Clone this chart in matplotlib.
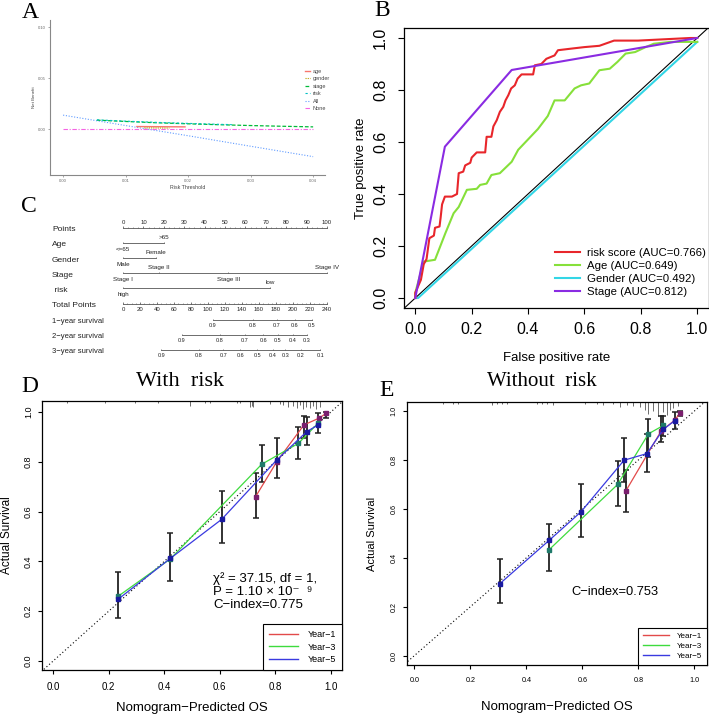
import numpy as np
import matplotlib
matplotlib.use('Agg')
import matplotlib.pyplot as plt
from matplotlib.lines import Line2D

plt.rcParams['font.family'] = ['Liberation Sans', 'DejaVu Sans']
SERIF = 'Liberation Serif'
W, H = 709, 718

# ---------------- data ----------------
# A: decision curve analysis (threshold, net benefit)
dca_all_t = [0.0, 0.01, 0.02, 0.03, 0.04]
dca_all_nb = [0.0137, 0.0035, -0.0065, -0.0168, -0.027]
dca_none_t = [0.0, 0.04]
dca_none_nb = [0.0, 0.0]
dca_stage_t = [0.0054, 0.01, 0.015, 0.02, 0.025, 0.03, 0.035, 0.04]
dca_stage_nb = [0.0088, 0.0075, 0.0062, 0.0052, 0.0043, 0.0035, 0.0028, 0.0022]
dca_risk_t = [0.0054, 0.01, 0.015, 0.02, 0.025, 0.027]
dca_risk_nb = [0.0091, 0.0078, 0.0066, 0.0056, 0.0047, 0.0044]
dca_age_t = [0.0118, 0.0195]
dca_age_nb = [0.0025, 0.0022]
dca_gender_t = [0.013, 0.017]
dca_gender_nb = [0.0012, 0.0010]

# B: ROC curves
risk_fpr = [0, 0.0, 0.02, 0.03, 0.04, 0.05, 0.066, 0.07, 0.086, 0.09, 0.095, 0.105, 0.13, 0.148,
            0.154, 0.17, 0.177, 0.195, 0.2, 0.218, 0.248, 0.253, 0.27, 0.277, 0.289, 0.30, 0.312,
            0.32, 0.33, 0.34, 0.353, 0.363, 0.377, 0.418, 0.424, 0.447, 0.465, 0.494, 0.506, 0.56,
            0.6, 0.653, 0.705, 0.79, 0.975, 1.0]
risk_tpr = [0, 0.02, 0.07, 0.13, 0.15, 0.23, 0.24, 0.27, 0.275, 0.31, 0.36, 0.39, 0.39, 0.40,
            0.48, 0.486, 0.51, 0.52, 0.54, 0.56, 0.56, 0.62, 0.62, 0.66, 0.684, 0.716, 0.735,
            0.76, 0.78, 0.806, 0.818, 0.844, 0.86, 0.86, 0.895, 0.90, 0.92, 0.933, 0.953, 0.96,
            0.965, 0.97, 0.99, 0.99, 1.0, 1.0]
age_fpr = [0, 0.0, 0.03, 0.07, 0.107, 0.136, 0.154, 0.183, 0.218, 0.23, 0.253, 0.27, 0.30, 0.342,
           0.365, 0.40, 0.435, 0.47, 0.494, 0.53, 0.565, 0.588, 0.617, 0.653, 0.69, 0.717, 0.746,
           0.78, 0.817, 0.846, 0.905, 0.975, 1.0]
age_tpr = [0, 0.02, 0.14, 0.147, 0.25, 0.326, 0.35, 0.416, 0.42, 0.435, 0.44, 0.473, 0.48, 0.524,
           0.57, 0.61, 0.65, 0.70, 0.76, 0.76, 0.806, 0.818, 0.825, 0.876, 0.882, 0.908, 0.94,
           0.946, 0.965, 0.978, 0.985, 0.985, 0.985]
gender_fpr = [0.0, 0.01, 1.0]
gender_tpr = [0.0, 0.0, 0.985]
stage_fpr = [0.0, 0.105, 0.342, 1.0]
stage_tpr = [0.0, 0.582, 0.877, 1.0]
roc_labels = ['risk score (AUC=0.766)', 'Age (AUC=0.649)', 'Gender (AUC=0.492)', 'Stage (AUC=0.812)']

# C: nomogram (points scale 0-100, total points 0-240)
age_levels = ['<=65', '>65']
age_pts = [0, 20]
gender_levels = ['Male', 'Female']
gender_pts = [0, 16.2]
stage_levels = ['Stage I', 'Stage II', 'Stage III', 'Stage IV']
stage_pts = [0, 17.7, 51.6, 100]
risk_levels = ['high', 'low']
risk_pts = [0, 72]
surv1_probs = [0.9, 0.8, 0.7, 0.6, 0.5]
surv1_total = [105.5, 153, 181, 202, 222]
surv2_probs = [0.9, 0.8, 0.7, 0.6, 0.5, 0.4, 0.3]
surv2_total = [69, 114, 143, 165, 182, 200, 216]
surv3_probs = [0.9, 0.8, 0.7, 0.6, 0.5, 0.4, 0.3, 0.2, 0.1]
surv3_total = [45, 89, 118, 138, 158, 176, 191, 209, 232]

# D: calibration with risk
d_y1_pred = [0.729, 0.805, 0.903, 0.957, 0.984]
d_y1_obs = [0.66, 0.80, 0.948, 0.975, 0.995]
d_y3_pred = [0.234, 0.422, 0.751, 0.883, 0.954]
d_y3_obs = [0.26, 0.41, 0.79, 0.874, 0.955]
d_y5_pred = [0.234, 0.422, 0.607, 0.805, 0.913, 0.954]
d_y5_obs = [0.248, 0.412, 0.569, 0.807, 0.921, 0.948]
d_eb_x = [0.234, 0.422, 0.607, 0.729, 0.751, 0.805, 0.883, 0.903, 0.913, 0.954, 0.984]
d_eb_lo = [0.174, 0.32, 0.475, 0.573, 0.72, 0.733, 0.811, 0.894, 0.867, 0.914, 0.975]
d_eb_hi = [0.356, 0.513, 0.683, 0.754, 0.867, 0.894, 0.941, 0.984, 0.98, 0.997, 1.0]
d_rug_x = [0.049, 0.187, 0.295, 0.379, 0.493, 0.547, 0.565, 0.661, 0.673, 0.709, 0.715, 0.721,
           0.781, 0.817, 0.829, 0.847, 0.865, 0.877, 0.888, 0.9, 0.912, 0.924, 0.936, 0.948, 0.96]
d_rug_h = [2, 2, 2, 2, 5, 2, 2, 2, 2, 6, 5, 6, 3, 3, 4, 6, 5, 7, 4, 8, 6, 7, 5, 8, 6]

# E: calibration without risk
e_y1_pred = [0.755, 0.881, 0.929, 0.949]
e_y1_obs = [0.673, 0.918, 0.962, 0.992]
e_y3_pred = [0.482, 0.726, 0.836, 0.889]
e_y3_obs = [0.434, 0.70, 0.907, 0.941]
e_y5_pred = [0.306, 0.482, 0.595, 0.749, 0.83, 0.889, 0.929]
e_y5_obs = [0.295, 0.472, 0.588, 0.799, 0.826, 0.925, 0.96]
e_eb_x = [0.306, 0.482, 0.595, 0.726, 0.749, 0.755, 0.83, 0.836, 0.881, 0.889, 0.929, 0.949]
e_eb_lo = [0.214, 0.347, 0.486, 0.611, 0.71, 0.588, 0.751, 0.812, 0.873, 0.897, 0.928, 0.978]
e_eb_hi = [0.397, 0.54, 0.70, 0.796, 0.891, 0.758, 0.907, 0.969, 0.978, 0.978, 0.996, 1.0]
e_rug_x = [0.104, 0.139, 0.157, 0.276, 0.294, 0.312, 0.33, 0.437, 0.455, 0.473, 0.496, 0.61,
           0.651, 0.675, 0.71, 0.734, 0.758, 0.781, 0.805, 0.823, 0.835, 0.853, 0.871, 0.889,
           0.901, 0.913, 0.925, 0.943]
e_rug_h = [2, 2, 2, 3, 2, 2, 2, 2, 2, 2, 3, 2, 2, 3, 2, 5, 3, 4, 5, 8, 12, 9, 14, 10, 13, 8, 6, 4]


def box(l, t, r, b):
    return [l / W, 1 - b / H, (r - l) / W, (b - t) / H]


fig = plt.figure(figsize=(W / 100, H / 100), dpi=100)

# ---------------- A ----------------
axA = fig.add_axes(box(50, 20, 325, 175))
grey = '#666666'
axA.plot(dca_all_t, dca_all_nb, color='#619CFF', ls=(0, (1, 1.5)), lw=0.8)
axA.plot(dca_none_t, dca_none_nb, color='#F564E3', ls=(0, (4, 1.5, 1, 1.5)), lw=0.8)
axA.plot(dca_stage_t, dca_stage_nb, color='#00BA38', ls=(0, (3, 1.5)), lw=0.9)
axA.plot(dca_risk_t, dca_risk_nb, color='#00BFC4', ls=(0, (2, 2)), lw=0.8)
axA.plot(dca_age_t, dca_age_nb, color='#F8766D', lw=1.0)
axA.plot(dca_gender_t, dca_gender_nb, color='#B79F00', ls=(0, (1, 1)), lw=0.8)
axA.set_xlim(-0.0021, 0.0419)
axA.set_ylim(-0.045, 0.107)
for s in ['top', 'right']:
    axA.spines[s].set_visible(False)
for s in ['left', 'bottom']:
    axA.spines[s].set_color('#888888')
    axA.spines[s].set_linewidth(0.8)
axA.set_xticks([0, 0.01, 0.02, 0.03, 0.04])
axA.set_xticklabels(['0.00', '0.01', '0.02', '0.03', '0.04'])
axA.set_yticks([0, 0.05, 0.10])
axA.set_yticklabels(['0.00', '0.05', '0.10'])
axA.tick_params(labelsize=3, colors=grey, length=1.2, width=0.4, pad=1.5)
axA.set_xlabel('Risk Threshold', fontsize=3.8, color='#444444', labelpad=1.5)
axA.set_ylabel('Net Benefit', fontsize=3.2, color='#444444', labelpad=2)
hA = [Line2D([], [], color='#F8766D', lw=1.0),
      Line2D([], [], color='#B79F00', ls=(0, (1, 1)), lw=0.8),
      Line2D([], [], color='#00BA38', ls=(0, (3, 1.5)), lw=0.9),
      Line2D([], [], color='#00BFC4', ls=(0, (2, 2)), lw=0.8),
      Line2D([], [], color='#619CFF', ls=(0, (1, 1.5)), lw=0.8),
      Line2D([], [], color='#F564E3', ls=(0, (4, 1.5, 1, 1.5)), lw=0.8)]
legA = fig.legend(hA, ['age', 'gender', 'stage', 'risk', 'All', 'None'], loc='upper left',
                  bbox_to_anchor=(302 / W, 1 - 66 / H), frameon=False, fontsize=4,
                  handlelength=1.0, handletextpad=0.4, labelspacing=0.45, borderpad=0)
for t in legA.get_texts():
    t.set_color('#444444')

# ---------------- B ----------------
axB = fig.add_axes(box(404, 27.6, 708.5, 308.4))
axB.plot([-0.04, 1.04], [-0.04, 1.04], color='black', lw=0.8)
axB.plot(gender_fpr, gender_tpr, color='#33D6E6', lw=1.5)
axB.plot(age_fpr, age_tpr, color='#86E03A', lw=1.5)
axB.plot(risk_fpr, risk_tpr, color='#E8262B', lw=1.5)
axB.plot(stage_fpr, stage_tpr, color='#8A2BE2', lw=1.5)
axB.set_xlim(-0.04, 1.04)
axB.set_ylim(-0.04, 1.04)
ticks = [0, 0.2, 0.4, 0.6, 0.8, 1.0]
axB.set_xticks(ticks)
axB.set_yticks(ticks)
axB.set_xticklabels(['0.0', '0.2', '0.4', '0.6', '0.8', '1.0'])
axB.set_yticklabels(['0.0', '0.2', '0.4', '0.6', '0.8', '1.0'], rotation=90, va='center')
axB.tick_params(axis='x', labelsize=11.5, length=4.5, width=0.8, pad=5)
axB.tick_params(axis='y', labelsize=11.5, length=4.5, width=0.8, pad=7)
for s in axB.spines.values():
    s.set_linewidth(0.9)
axB.set_xlabel('False positive rate', fontsize=9.5, va='center')
axB.xaxis.set_label_coords(0.5, (308.4 - 358) / 280.8)
axB.set_ylabel('True positive rate', fontsize=9.5, va='center')
axB.yaxis.set_label_coords((361 - 404) / 304.5, 0.5)
hB = [Line2D([], [], color=c, lw=1.5) for c in ['#E8262B', '#86E03A', '#33D6E6', '#8A2BE2']]
axB.legend(hB, roc_labels, loc='lower left', bbox_to_anchor=(549 / W, 1 - 303 / H),
           bbox_transform=fig.transFigure, frameon=False, fontsize=8.2,
           handlelength=2.2, handletextpad=0.6, labelspacing=0.28, borderpad=0)

# ---------------- C ----------------
axC = fig.add_axes(box(0, 195, 355, 362))
axC.axis('off')
axC.set_xlim(-60.3, 113.7)
axC.set_ylim(362, 195)
lc = '#555555'
tx = '#222222'
name_x = -34.8
rows = {'Points': 229, 'Age': 244, 'Gender': 260, 'Stage': 275, ' risk': 290,
        'Total Points': 305}
for name, y in rows.items():
    axC.text(name_x, y, name, fontsize=6, ha='left', va='center', color=tx)
for name, y in [('1\u2212year survival', 321), ('2\u2212year survival', 336),
                ('3\u2212year survival', 351)]:
    axC.text(name_x, y, name, fontsize=5.5, ha='left', va='center', color=tx)

# points axis
axC.plot([0, 100], [228, 228], color=lc, lw=0.6)
axC.vlines(np.arange(0, 101, 2.5), 226.8, 228, color=lc, lw=0.4)
axC.vlines(np.arange(0, 101, 10), 225.8, 228, color=lc, lw=0.5)
for v in range(0, 101, 10):
    axC.text(v, 222.5, str(v), fontsize=4.3, ha='center', va='center', color=tx)


def cat_axis(ax, y, pts, levels):
    ax.plot([min(pts), max(pts)], [y, y], color=lc, lw=0.6)
    ax.vlines(pts, y - 1.3, y, color=lc, lw=0.5)
    for i, (p, lab) in enumerate(zip(pts, levels)):
        above = i % 2 == 1
        ax.text(p, y - 5.5 if above else y + 6, lab, fontsize=4.5,
                ha='center', va='center', color=tx)


cat_axis(axC, 243, age_pts, age_levels)
cat_axis(axC, 258, gender_pts, gender_levels)
cat_axis(axC, 273, stage_pts, stage_levels)
cat_axis(axC, 288, risk_pts, risk_levels)

# total points axis
sc = 100 / 240
axC.plot([0, 100], [304, 304], color=lc, lw=0.6)
axC.vlines(np.arange(0, 241, 5) * sc, 302.8, 304, color=lc, lw=0.4)
axC.vlines(np.arange(0, 241, 20) * sc, 302, 304, color=lc, lw=0.5)
for v in range(0, 241, 20):
    axC.text(v * sc, 309.5, str(v), fontsize=4.3, ha='center', va='center', color=tx)


def surv_axis(ax, y, totals, probs):
    xs = np.array(totals) * sc
    ax.plot([xs.min(), xs.max()], [y, y], color=lc, lw=0.6)
    ax.vlines(xs, y - 1.3, y, color=lc, lw=0.5)
    for x, p in zip(xs, probs):
        ax.text(x, y + 5.5, f'{p:.1f}', fontsize=4, ha='center', va='center', color=tx)


surv_axis(axC, 320, surv1_total, surv1_probs)
surv_axis(axC, 335, surv2_total, surv2_probs)
surv_axis(axC, 350, surv3_total, surv3_probs)


# ---------------- D / E ----------------
def calib(ax, curves, eb_x, eb_lo, eb_hi, rug_x, rug_h, px_h):
    ax.plot([-0.1, 1.1], [-0.1, 1.1], color='black', ls=(0, (1, 2.2)), lw=0.8)
    rx = np.array(rug_x)
    rh = np.array(rug_h) / px_h
    ax.vlines(rx, 1 - rh, 1, transform=ax.get_xaxis_transform(), color='#555555', lw=0.6)
    lo = np.array(eb_lo)
    hi = np.array(eb_hi)
    ax.errorbar(eb_x, (lo + hi) / 2, yerr=(hi - lo) / 2, fmt='none', ecolor='#222222',
                elinewidth=1.3, capsize=2.5, capthick=1.1)
    for px, py, c, mc in curves:
        ax.plot(px, py, color=c, lw=0.9)
        ax.plot(px, py, ls='none', marker='s', ms=3, color=mc, mec=mc)
    for s in ax.spines.values():
        s.set_linewidth(0.9)
    ax.set_xticks(ticks)
    ax.set_yticks(ticks)
    ax.set_xticklabels(['0.0', '0.2', '0.4', '0.6', '0.8', '1.0'])
    ax.set_yticklabels(['0.0', '0.2', '0.4', '0.6', '0.8', '1.0'], rotation=90, va='center')


colors = [('#E24A4A', '#7A1F6E'), ('#3EDB3E', '#1F7A6A'), ('#3A3AE0', '#1A1AA0')]
yr_labels = ['Year\u22121', 'Year\u22123', 'Year\u22125']

axD = fig.add_axes(box(42, 401, 342, 670))
calib(axD, [(d_y1_pred, d_y1_obs) + colors[0], (d_y3_pred, d_y3_obs) + colors[1],
            (d_y5_pred, d_y5_obs) + colors[2]],
      d_eb_x, d_eb_lo, d_eb_hi, d_rug_x, d_rug_h, 269)
axD.set_xlim(-0.04, 1.04)
axD.set_ylim(-0.036, 1.044)
axD.tick_params(axis='x', labelsize=7, length=3, width=0.8, pad=5.5)
axD.tick_params(axis='y', labelsize=6.5, length=3, width=0.8, pad=3.5)
axD.set_xlabel('Nomogram\u2212Predicted OS', fontsize=9.5, va='center')
axD.xaxis.set_label_coords(0.5, (670 - 708) / 269)
axD.set_ylabel('Actual Survival', fontsize=8.5, va='center')
axD.yaxis.set_label_coords((7 - 42) / 300, 0.5)
axD.text(0.576, 0.333, '\u03c7\u00b2 = 37.15, df = 1,', fontsize=9.5, va='center')
axD.text(0.576, 0.277, 'P = 1.10 \u00d7 10\u207b  \u2079', fontsize=9.5, va='center')
axD.text(0.576, 0.225, 'C\u2212index=0.775', fontsize=9.5, va='center')
hD = [Line2D([], [], color=c[0], lw=1.0) for c in colors]
lgD = axD.legend(hD, yr_labels, loc='lower right', frameon=True, fancybox=False,
                 edgecolor='black', framealpha=1, borderaxespad=0, fontsize=6.5,
                 handlelength=3.2, handletextpad=1.0, labelspacing=0.35, borderpad=0.7)
lgD.get_frame().set_linewidth(0.8)

axE = fig.add_axes(box(407, 402, 707, 665))
calib(axE, [(e_y1_pred, e_y1_obs) + colors[0], (e_y3_pred, e_y3_obs) + colors[1],
            (e_y5_pred, e_y5_obs) + colors[2]],
      e_eb_x, e_eb_lo, e_eb_hi, e_rug_x, e_rug_h, 263)
axE.set_xlim(-0.026, 1.045)
axE.set_ylim(-0.038, 1.037)
axE.tick_params(axis='x', labelsize=5.2, length=3, width=0.8, pad=6)
axE.tick_params(axis='y', labelsize=5.2, length=3, width=0.8, pad=4)
axE.set_xlabel('Nomogram\u2212Predicted OS', fontsize=9.5, va='center')
axE.xaxis.set_label_coords(0.5, (665 - 707) / 263)
axE.set_ylabel('Actual Survival', fontsize=8, va='center')
axE.yaxis.set_label_coords((372 - 407) / 300, 0.5)
axE.text(0.56, 0.26, 'C\u2212index=0.753', fontsize=9.3, va='center')
lgE = axE.legend(hD, yr_labels, loc='lower right', frameon=True, fancybox=False,
                 edgecolor='black', framealpha=1, borderaxespad=0, fontsize=5.8,
                 handlelength=3.2, handletextpad=1.0, labelspacing=0.3, borderpad=0.6)
lgE.get_frame().set_linewidth(0.8)

# titles and panel letters
fig.text(180 / W, 1 - 382 / H, 'With  risk', family=SERIF, fontsize=16, ha='center', va='center')
fig.text(542 / W, 1 - 381 / H, 'Without  risk', family=SERIF, fontsize=15, ha='center', va='center')
for lab, x, y in [('A', 30, 13), ('B', 382, 11), ('C', 29, 207), ('D', 30, 387), ('E', 387, 390)]:
    fig.text(x / W, 1 - y / H, lab, family=SERIF, fontsize=17, ha='center', va='center')

fig.savefig('out.png', dpi=100)
